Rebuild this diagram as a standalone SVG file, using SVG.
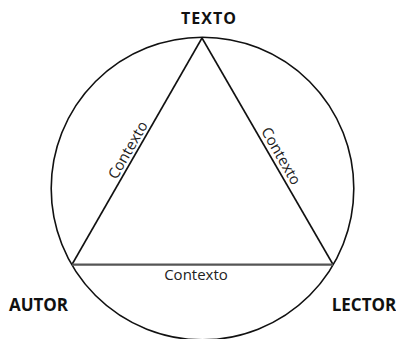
<svg xmlns="http://www.w3.org/2000/svg" width="396" height="339" viewBox="0 0 396 339">
<style>
.lbl{font-family:"Open Sans","Noto Sans",sans-serif;font-weight:bold;fill:#111;}
.ctx{font-family:"Open Sans","Noto Sans",sans-serif;font-size:15px;fill:#222;}
.edge{stroke:#111;stroke-width:1.6;fill:none;}
</style>
<rect width="396" height="339" fill="#fff"/>
<g id="connectors">
<circle cx="202.5" cy="188.5" r="151.3" class="edge"/>
<line x1="72" y1="264.5" x2="202" y2="38" class="edge"/>
<line x1="202" y1="38" x2="333" y2="264.5" class="edge"/>
<line x1="72" y1="264.7" x2="333" y2="264.7" stroke="#555" stroke-width="2.2"/>
<text class="ctx" text-anchor="middle" transform="translate(132.3,152.6) rotate(-60)">Contexto</text>
<text class="ctx" text-anchor="middle" transform="translate(276.6,158.6) rotate(60)">Contexto</text>
<text class="ctx" text-anchor="middle" x="196" y="280">Contexto</text>
</g>
<g id="texto"><text class="lbl" x="209" y="24" font-size="16" letter-spacing="1" text-anchor="middle">TEXTO</text></g>
<g id="autor"><text class="lbl" x="38.5" y="311" font-size="17" text-anchor="middle">AUTOR</text></g>
<g id="lector"><text class="lbl" x="364" y="311" font-size="17" text-anchor="middle">LECTOR</text></g>
</svg>
